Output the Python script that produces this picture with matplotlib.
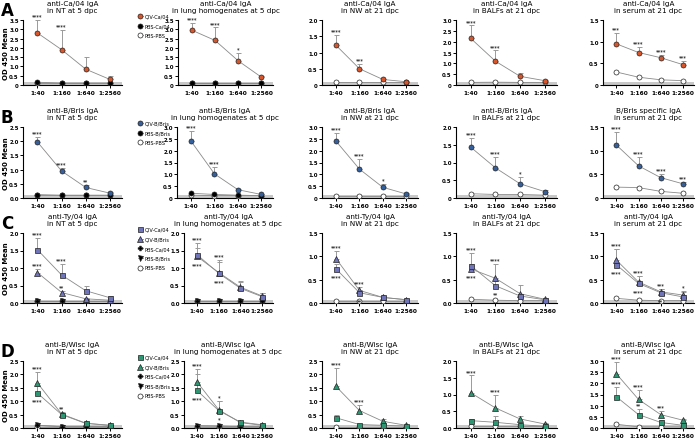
import numpy as np
import matplotlib.pyplot as plt
from matplotlib.patches import Rectangle

dilutions = ["1:40", "1:160", "1:640", "1:2560"]

sites = ["in NT at 5 dpc", "in lung homogenates at 5 dpc", "in NW at 21 dpc",
         "in BALFs at 21 dpc", "in serum at 21 dpc"]

# ---- row A: anti-Ca/04 IgA
A_titles = ["anti-Ca/04 IgA"] * 5
A_ymax = [3.5, 3.5, 2.0, 3.0, 1.5]
A_zero = ["0", "0", "0", "0", "0"]
A_qiv = [[2.80, 1.90, 0.85, 0.30], [2.95, 2.40, 1.30, 0.42], [1.22, 0.50, 0.17, 0.10],
         [2.15, 1.10, 0.40, 0.20], [0.95, 0.75, 0.63, 0.47]]
A_qiv_err = [[0.70, 1.05, 0.65, 0.20], [0.40, 0.70, 0.45, 0.08], [0.33, 0.15, 0.03, 0.02],
             [0.60, 0.50, 0.15, 0.05], [0.25, 0.13, 0.07, 0.08]]
A_pbs = [[0.15, 0.10, 0.10, 0.10], [0.12, 0.12, 0.12, 0.12], None, None, None]
A_open = [[0.10, 0.10, 0.10, 0.10], [0.10, 0.10, 0.10, 0.10], [0.08, 0.08, 0.08, 0.08],
          [0.12, 0.13, 0.12, 0.12], [0.30, 0.18, 0.12, 0.10]]
A_stars = [["****", "****", "", ""], ["****", "****", "*", ""], ["****", "***", "", ""],
           ["****", "****", "", ""], ["***", "****", "****", "***"]]

# ---- row B: anti-B/Bris IgA
B_titles = ["anti-B/Bris IgA"] * 4 + ["B/Bris specific IgA"]
B_ymax = [2.5, 3.0, 3.0, 2.0, 1.5]
B_zero = ["0.0", "0", "0", "0", "0"]
B_qiv = [[1.97, 0.95, 0.37, 0.17], [2.40, 1.02, 0.35, 0.15], [2.40, 1.22, 0.45, 0.17],
         [1.43, 0.85, 0.40, 0.18], [1.12, 0.68, 0.43, 0.30]]
B_qiv_err = [[0.18, 0.10, 0.08, 0.03], [0.45, 0.28, 0.05, 0.03], [0.35, 0.43, 0.15, 0.03],
             [0.27, 0.30, 0.20, 0.04], [0.28, 0.19, 0.07, 0.03]]
B_pbs = [[0.12, 0.10, 0.10, 0.10], [0.20, 0.15, 0.12, 0.10], None, None, None]
B_open = [[0.10, 0.10, 0.10, 0.10], [0.12, 0.10, 0.10, 0.10], [0.08, 0.08, 0.08, 0.08],
          [0.12, 0.10, 0.10, 0.08], [0.23, 0.22, 0.14, 0.10]]
B_stars = [["****", "****", "**", ""], ["****", "****", "", ""], ["****", "****", "*", ""],
           ["****", "****", "*", ""], ["****", "****", "****", "***"]]

# ---- row C: anti-Ty/04 IgA
C_titles = ["anti-Ty/04 IgA"] * 5
C_ymax = [2.0, 2.0, 1.5, 1.5, 1.5]
C_zero = ["0.0"] * 5
C_sq = [[1.52, 0.80, 0.35, 0.15], [1.38, 0.85, 0.42, 0.18], [0.73, 0.22, 0.12, 0.07],
        [0.80, 0.37, 0.15, 0.07], [0.82, 0.42, 0.22, 0.13]]
C_sq_err = [[0.33, 0.32, 0.15, 0.05], [0.34, 0.37, 0.20, 0.12], [0.10, 0.06, 0.03, 0.02],
            [0.27, 0.10, 0.05, 0.02], [0.33, 0.15, 0.08, 0.12]]
C_tri = [[0.87, 0.30, 0.12, 0.08], [1.33, 0.87, 0.45, 0.20], [0.95, 0.27, 0.12, 0.07],
         [0.73, 0.53, 0.20, 0.08], [0.92, 0.45, 0.24, 0.17]]
C_tri_err = [[0.10, 0.05, 0.03, 0.02], [0.25, 0.30, 0.15, 0.08], [0.17, 0.08, 0.03, 0.02],
             [0.10, 0.30, 0.18, 0.03], [0.23, 0.12, 0.06, 0.06]]
C_pbs = [[0.05, 0.05, 0.05, 0.05], [0.05, 0.05, 0.05, 0.05], None, None, None]
C_open = [[0.05, 0.05, 0.05, 0.05], [0.05, 0.05, 0.05, 0.05], [0.05, 0.05, 0.05, 0.05],
          [0.08, 0.06, 0.05, 0.05], [0.10, 0.06, 0.05, 0.05]]
C_sq_stars = [["****", "****", "", ""], ["****", "****", "", ""], ["", "", "", ""],
              ["****", "", "", ""], ["****", "****", "***", "*"]]
C_tri_stars = [["****", "**", "", ""], ["", "", "", ""], ["****", "****", "", ""],
               ["", "****", "", ""], ["", "", "", ""]]
C_lo_stars = [["", "", "", ""], ["****", "****", "", ""], ["****", "**", "", ""],
              ["****", "**", "", ""], ["****", "****", "**", ""]]

# ---- row D: anti-B/Wisc IgA
D_titles = ["anti-B/Wisc IgA"] * 5
D_ymax = [2.5, 2.5, 2.5, 2.0, 3.0]
D_zero = ["0.0"] * 5
D_sq = [[1.30, 0.50, 0.17, 0.10], [1.40, 0.65, 0.22, 0.12], [0.38, 0.13, 0.10, 0.07],
        [0.22, 0.17, 0.10, 0.05], [1.40, 0.60, 0.25, 0.12]]
D_sq_err = [[0.25, 0.05, 0.03, 0.02], [0.60, 0.35, 0.05, 0.02], [0.12, 0.03, 0.02, 0.02],
            [0.06, 0.20, 0.05, 0.02], [0.45, 0.25, 0.10, 0.05]]
D_tri = [[1.68, 0.52, 0.18, 0.10], [1.72, 0.68, 0.20, 0.10], [1.55, 0.65, 0.25, 0.10],
         [1.05, 0.60, 0.27, 0.12], [2.43, 1.28, 0.60, 0.35]]
D_tri_err = [[0.42, 0.08, 0.03, 0.02], [0.48, 0.32, 0.05, 0.02], [0.70, 0.20, 0.08, 0.03],
             [0.52, 0.40, 0.08, 0.03], [0.52, 0.42, 0.15, 0.05]]
D_pbs = [[0.10, 0.05, 0.05, 0.05], [0.08, 0.07, 0.05, 0.05], None, None, None]
D_open = [[0.05, 0.05, 0.05, 0.05], [0.05, 0.05, 0.05, 0.05], [0.05, 0.05, 0.05, 0.05],
          [0.05, 0.05, 0.05, 0.05], [0.17, 0.05, 0.05, 0.05]]
D_sq_stars = [["", "", "", ""], ["", "", "", ""], ["", "", "", ""],
              ["", "", "", ""], ["****", "**", "", ""]]
D_tri_stars = [["****", "**", "", ""], ["****", "*", "", ""], ["****", "****", "", ""],
               ["****", "****", "", ""], ["****", "****", "***", ""]]
D_lo_stars = [["****", "", "", ""], ["****", "*", "", ""], ["", "", "", ""],
              ["", "", "", ""], ["", "", "", ""]]

row_letters = ["A", "B", "C", "D"]
colA = "#d4572e"
colB = "#35609c"
colC = "#7074b8"
colD = "#2e9673"

fig = plt.figure(figsize=(6.96, 4.39), dpi=100)
W, H = 696.0, 439.0
cols_px = [(23, 122), (178, 273), (322, 418), (456, 557), (603, 694)]
col2_left = [178, 177, 184, 184]
rows_px = [(21, 86), (128, 199), (234, 304), (362, 429)]
x = np.arange(len(dilutions))


def make_ax(r, c):
    l, rr = cols_px[c]
    if c == 1:
        l = col2_left[r]
    t, b = rows_px[r]
    ax = fig.add_axes([l / W, 1 - b / H, (rr - l) / W, (b - t) / H])
    for s in ["top", "right"]:
        ax.spines[s].set_visible(False)
    for s in ["left", "bottom"]:
        ax.spines[s].set_linewidth(0.8)
    ax.set_xlim(-0.6, 3.5)
    ax.set_xticks(x)
    ax.set_xticklabels(dilutions, fontsize=4.2, fontweight="bold")
    ax.tick_params(length=2, width=0.7, pad=1.5)
    ax.tick_params(axis="y", pad=1)
    ax.add_patch(Rectangle((0, 0), 1, 0.045, transform=ax.transAxes,
                           color="#c8c8c8", lw=0, zorder=1))
    return ax


def set_y(ax, ymax, zero):
    ax.set_ylim(0, ymax)
    ticks = np.arange(0, ymax + 0.01, 0.5)
    ax.set_yticks(ticks)
    labs = [zero] + ["%.1f" % v for v in ticks[1:]]
    ax.set_yticklabels(labs, fontsize=3.9, fontweight="bold")


def series(ax, vals, err, color, marker, ms=3.6, z=4):
    vals = np.array(vals)
    if err is not None:
        ax.errorbar(x, vals, yerr=[np.zeros(4), np.array(err)], fmt="none",
                    ecolor="#9a9a9a", elinewidth=0.7, capsize=1.8, capthick=0.7, zorder=2)
    return ax.plot(x, vals, color="#8a8a8a", lw=0.6, marker=marker, ms=ms,
                   mfc=color, mec="#222222", mew=0.5, zorder=z)[0]


def stars(ax, vals, err, labs, ymax, above=True):
    for i, s in enumerate(labs):
        if not s:
            continue
        if above:
            y = vals[i] + (err[i] if err else 0) + ymax * 0.025
            va = "bottom"
        else:
            y = vals[i] - ymax * 0.08
            va = "top"
        ax.text(x[i], y, s, ha="center", va=va, fontsize=3.6, fontweight="bold",
                color="#333333", zorder=6)


def title(ax, t1, t2):
    ax.set_title(t1 + "\n" + t2, fontsize=5.2, pad=6, linespacing=1.15)


def legend(ax, handles, labels, r):
    t, b = rows_px[r]
    ax.legend(handles, labels, loc="upper left", bbox_to_anchor=(135 / W, 1 - (t - 9) / H),
              bbox_transform=fig.transFigure, frameon=False, fontsize=3.6,
              handlelength=1.1, handletextpad=0.3, labelspacing=0.95, borderpad=0)


def ylab(r):
    t, b = rows_px[r]
    fig.text(6 / W, 1 - (t + b) / 2 / H, "OD 450 Mean", rotation=90, ha="center",
             va="center", fontsize=5, fontweight="bold")


# rows A and B
for r, (tit, ymx, zer, qiv, qerr, pbs, opn, st, col, ag) in enumerate([
        (A_titles, A_ymax, A_zero, A_qiv, A_qiv_err, A_pbs, A_open, A_stars, colA, "Ca/04"),
        (B_titles, B_ymax, B_zero, B_qiv, B_qiv_err, B_pbs, B_open, B_stars, colB, "B/Bris")]):
    for c in range(5):
        ax = make_ax(r, c)
        set_y(ax, ymx[c], zer[c])
        title(ax, tit[c], sites[c])
        h_open = series(ax, opn[c], None, "white", "o", z=3)
        if pbs[c] is not None:
            h_pbs = series(ax, pbs[c], None, "black", "o", z=3)
        h_q = series(ax, qiv[c], qerr[c], col, "o")
        stars(ax, qiv[c], qerr[c], st[c], ymx[c])
        if c == 0:
            ylab(r)
            legend(ax, [h_q, h_pbs, h_open], ["QIV-" + ag, "PBS-" + ag, "PBS-PBS"], r)

# rows C and D
for r, (tit, ymx, zer, sq, sqe, tri, trie, pbs, opn, sqs, trs, los, col) in [
        (2, (C_titles, C_ymax, C_zero, C_sq, C_sq_err, C_tri, C_tri_err, C_pbs, C_open,
             C_sq_stars, C_tri_stars, C_lo_stars, colC)),
        (3, (D_titles, D_ymax, D_zero, D_sq, D_sq_err, D_tri, D_tri_err, D_pbs, D_open,
             D_sq_stars, D_tri_stars, D_lo_stars, colD))]:
    for c in range(5):
        ax = make_ax(r, c)
        set_y(ax, ymx[c], zer[c])
        title(ax, tit[c], sites[c])
        h_open = series(ax, opn[c], None, "white", "o", z=3)
        if pbs[c] is not None:
            h_p2 = series(ax, pbs[c], None, "black", "v", z=3)
            h_p1 = series(ax, pbs[c], None, "black", "P", ms=3.4, z=3)
        h_t = series(ax, tri[c], trie[c], col, "^", ms=3.8)
        h_s = series(ax, sq[c], sqe[c], col, "s", ms=3.6)
        stars(ax, sq[c], sqe[c], sqs[c], ymx[c])
        stars(ax, tri[c], trie[c], trs[c], ymx[c])
        low = [min(a, b) for a, b in zip(sq[c], tri[c])]
        stars(ax, low, None, los[c], ymx[c], above=False)
        if c == 0:
            ylab(r)
            legend(ax, [h_s, h_t, h_p1, h_p2, h_open],
                   ["QIV-Ca/04", "QIV-B/Bris", "PBS-Ca/04", "PBS-B/Bris", "PBS-PBS"], r)

for r, L in enumerate(row_letters):
    t, b = rows_px[r]
    fig.text(1 / W, 1 - (t - 19) / H, L, fontsize=12, fontweight="bold", va="top", ha="left")

fig.savefig("out.png", dpi=100)
